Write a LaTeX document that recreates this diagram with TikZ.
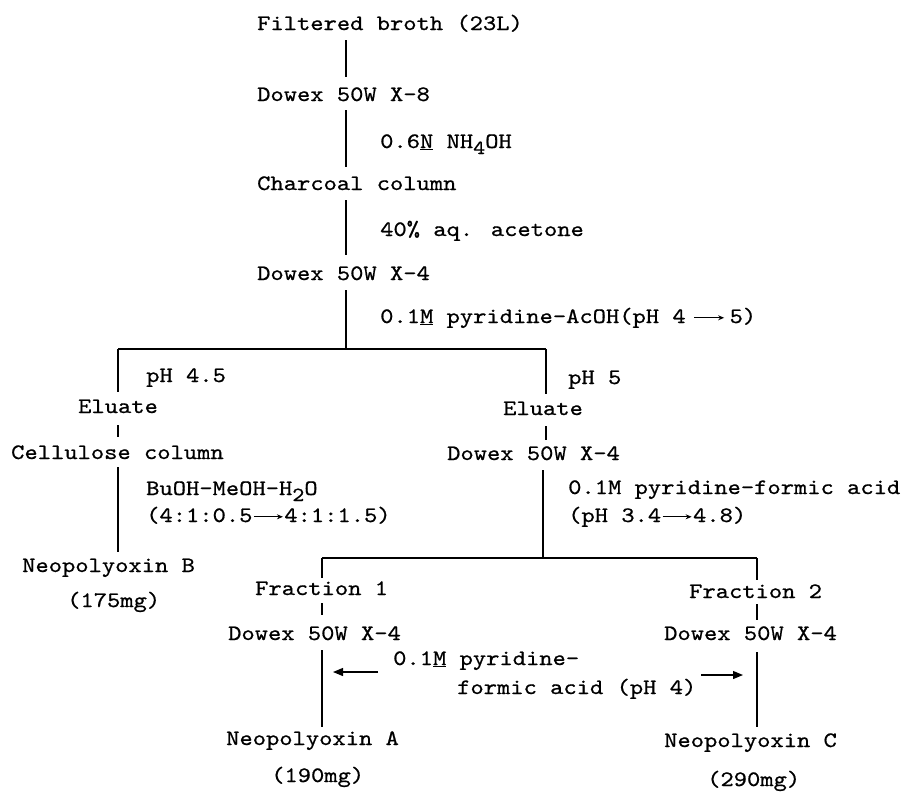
\documentclass[tikz,border=0pt]{standalone}
\usepackage{fontspec}
\newfontfamily\tyfont{lmmono10-regular}[Extension=.otf,FakeStretch=1.15,FakeBold=0.7]
\usetikzlibrary{arrows.meta,calc}
\newcommand{\inarr}[1]{\tikz[baseline=-0.55ex]\draw[line width=0.9pt,-{Stealth[length=6pt,width=5pt]}] (0pt,0pt)--(#1,0pt);}
\newcommand{\lowsub}[1]{\raisebox{-6pt}{\fontsize{20}{20}\selectfont #1}}
\begin{document}
\begin{tikzpicture}[x=1pt,y=-1pt,
  lab/.style={anchor=base west,inner sep=0pt,font=\tyfont\fontsize{22}{26}\selectfont},
  conn/.style={line width=1.3pt},
  side/.style={line width=1.2pt,-{Triangle[length=10pt,width=8pt]}}]
\useasboundingbox (0,0) rectangle (903,793);
% x positions of the vertical lines
\coordinate (T) at (346,0);
\coordinate (L) at (118,0);
\coordinate (R) at (546,0);
\coordinate (R2) at (543,0);
\coordinate (A) at (322,0);
\coordinate (C) at (757,0);
% text
\node[lab] (broth) at (257,30) {Filtered broth (23L)};
\node[lab] (dx8) at (257,101) {Dowex 50W X-8};
\node[lab] (nh) at (380,148) {0.6\underline{N} NH\lowsub{4}OH};
\node[lab] (charc) at (257,190) {Charcoal column};
\node[lab] (acet) at (380,236) {40\% aq. acetone};
\node[lab] (dx4) at (257,280) {Dowex 50W X-4};
\node[lab] (acoh) at (380,323) {0.1\underline{M} pyridine-AcOH(pH 4\hspace{8pt}\inarr{30pt}\hspace{5pt}5)};
\node[lab] (ph45) at (146,382) {pH 4.5};
\node[lab] (elL) at (78,413) {Eluate};
\node[lab] (ph5) at (568,384) {pH 5};
\node[lab] (elR) at (503,415) {Eluate};
\node[lab] (cell) at (11,459) {Cellulose column};
\node[lab] (dxR) at (447,460) {Dowex 50W X-4};
\node[lab] (buoh) at (146,495) {BuOH-MeOH-H\lowsub{2}O};
\node[lab] (ratio) at (146,522) {(4:1:0.5\hspace{1pt}\inarr{29pt}\hspace{1pt}4:1:1.5)};
\node[lab] (form) at (568,494) {0.1M pyridine-formic acid};
\node[lab] (phr) at (568,522) {(pH 3.4\hspace{1pt}\inarr{29pt}\hspace{1pt}4.8)};
\node[lab] (neoB) at (22,572) {Neopolyoxin B};
\node[lab] (mgB) at (67,607) {(175mg)};
\node[lab] (fr1) at (255,595) {Fraction 1};
\node[lab] (fr2) at (689,598) {Fraction 2};
\node[lab] (dxA) at (228,640) {Dowex 50W X-4};
\node[lab] (dxC) at (664,640) {Dowex 50W X-4};
\node[lab] (pyr) at (393,665) {0.1\underline{M} pyridine-};
\node[lab] (fac) at (457,694) {formic acid (pH 4)};
\node[lab] (neoA) at (226,745) {Neopolyoxin A};
\node[lab] (mgA) at (271,782) {(190mg)};
\node[lab] (neoC) at (664,747) {Neopolyoxin C};
\node[lab] (mgC) at (707,786) {(290mg)};
% junctions
\coordinate (barM) at ($(T)+(0,349)$);
\coordinate (barL) at ($(L)+(0,349)$);
\coordinate (barR) at ($(R)+(0,349)$);
\coordinate (bar2M) at ($(R2)+(0,558)$);
\coordinate (bar2L) at ($(A)+(0,558)$);
\coordinate (bar2R) at ($(C)+(0,558)$);
% main trunk
\draw[conn] ($(broth.base -| T)+(0,10)$) -- ($(dx8.base -| T)+(0,-24)$);
\draw[conn] ($(dx8.base -| T)+(0,9)$) -- ($(charc.base -| T)+(0,-23)$);
\draw[conn] ($(charc.base -| T)+(0,10)$) -- ($(dx4.base -| T)+(0,-25)$);
\draw[conn] ($(dx4.base -| T)+(0,10)$) -- (barM);
\draw[conn] (barL) -- (barR);
\draw[conn] (barL) -- ($(elL.base -| L)+(0,-21)$);
\draw[conn] (barR) -- ($(elR.base -| R)+(0,-21)$);
% left branch
\draw[conn] ($(elL.base -| L)+(0,12)$) -- ($(cell.base -| L)+(0,-22)$);
\draw[conn] ($(cell.base -| L)+(0,8)$) -- ($(neoB.base -| L)+(0,-20)$);
% right branch
\draw[conn] ($(elR.base -| R)+(0,11)$) -- ($(dxR.base -| R)+(0,-20)$);
\draw[conn] ($(dxR.base -| R2)+(0,10)$) -- (bar2M);
\draw[conn] (bar2L) -- (bar2R);
\draw[conn] (bar2L) -- ($(fr1.base -| A)+(0,-17)$);
\draw[conn] (bar2R) -- ($(fr2.base -| C)+(0,-18)$);
\draw[conn] ($(fr1.base -| A)+(0,8)$) -- ($(dxA.base -| A)+(0,-25)$);
\draw[conn] ($(fr2.base -| C)+(0,6)$) -- ($(dxC.base -| C)+(0,-20)$);
\draw[conn] ($(dxA.base -| A)+(0,10)$) -- ($(neoA.base -| A)+(0,-18)$);
\draw[conn] ($(dxC.base -| C)+(0,12)$) -- ($(neoC.base -| C)+(0,-20)$);
% side arrows
\coordinate (la) at ($(pyr.base west)+(-15,7)$);
\coordinate (ra) at ($(fac.base east)+(5,-19)$);
\draw[side] (la) -- ($(la -| A)+(11,0)$);
\draw[side] (ra) -- ($(ra -| C)+(-14,0)$);
\end{tikzpicture}
\end{document}
